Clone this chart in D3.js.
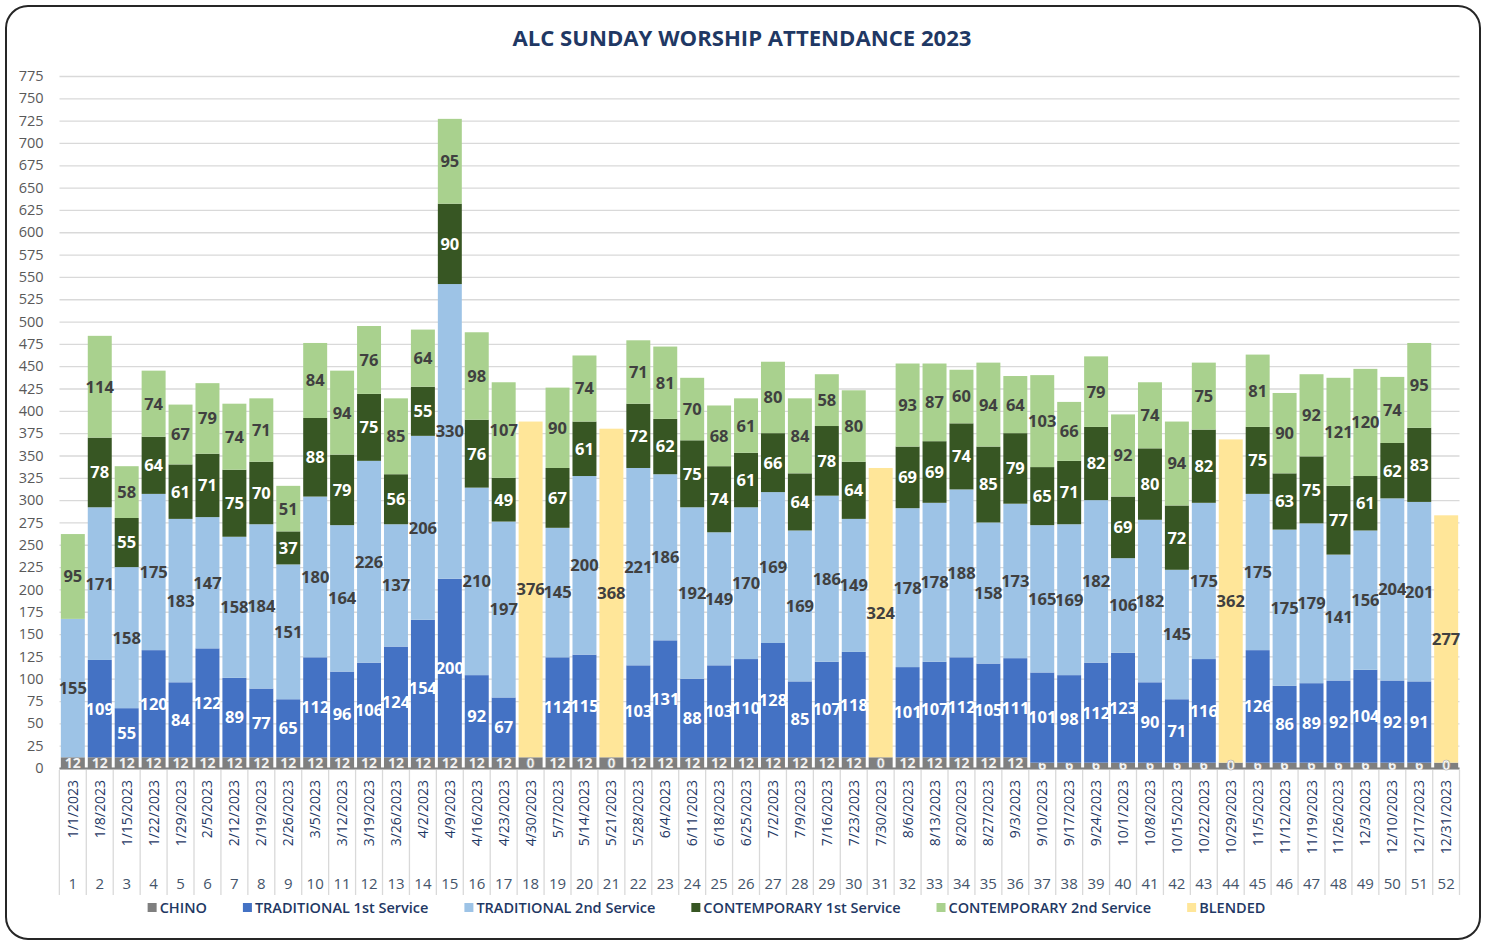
<!DOCTYPE html>
<html>
<head>
<meta charset="utf-8">
<script src="https://cdn.jsdelivr.net/npm/d3@7"></script>
<style>
  body { margin: 0; background: #fff; }
  svg text { font-family: "Open Sans", "Noto Sans", sans-serif; }
</style>
</head>
<body>
<div id="chart"></div>
<script>
// week numbers and the sunday dates under them
var weeks = [1,2,3,4,5,6,7,8,9,10,11,12,13,14,15,16,17,18,19,20,21,22,23,24,25,26,
  27,28,29,30,31,32,33,34,35,36,37,38,39,40,41,42,43,44,45,46,47,48,49,50,51,52];
var dates = ["1/1/2023","1/8/2023","1/15/2023","1/22/2023","1/29/2023","2/5/2023","2/12/2023",
  "2/19/2023","2/26/2023","3/5/2023","3/12/2023","3/19/2023","3/26/2023","4/2/2023","4/9/2023",
  "4/16/2023","4/23/2023","4/30/2023","5/7/2023","5/14/2023","5/21/2023","5/28/2023","6/4/2023",
  "6/11/2023","6/18/2023","6/25/2023","7/2/2023","7/9/2023","7/16/2023","7/23/2023","7/30/2023",
  "8/6/2023","8/13/2023","8/20/2023","8/27/2023","9/3/2023","9/10/2023","9/17/2023","9/24/2023",
  "10/1/2023","10/8/2023","10/15/2023","10/22/2023","10/29/2023","11/5/2023","11/12/2023",
  "11/19/2023","11/26/2023","12/3/2023","12/10/2023","12/17/2023","12/31/2023"];

// chino band as drawn, and the label the chart prints on it (0 on the blended weeks)
var chino = [12,12,12,12,12,12,12,12,12,12,12,12,12,12,12,12,12,12,12,12,12,12,12,12,12,12,
  12,12,12,12,12,12,12,12,12,12,6,6,6,6,6,6,6,6,6,6,6,6,6,6,6,6];
var chinoLabel = [12,12,12,12,12,12,12,12,12,12,12,12,12,12,12,12,12,0,12,12,0,12,12,12,12,12,
  12,12,12,12,0,12,12,12,12,12,6,6,6,6,6,6,6,0,6,6,6,6,6,6,6,0];
var trad1 = [null,109,55,120,84,122,89,77,65,112,96,106,124,154,200,92,67,null,112,115,null,103,131,88,103,110,
  128,85,107,118,null,101,107,112,105,111,101,98,112,123,90,71,116,null,126,86,89,92,104,92,91,null];
var trad2 = [155,171,158,175,183,147,158,184,151,180,164,226,137,206,330,210,197,null,145,200,null,221,186,192,149,170,
  169,169,186,149,null,178,178,188,158,173,165,169,182,106,182,145,175,null,175,175,179,141,156,204,201,null];
var cont1 = [null,78,55,64,61,71,75,70,37,88,79,75,56,55,90,76,49,null,67,61,null,72,62,75,74,61,
  66,64,78,64,null,69,69,74,85,79,65,71,82,69,80,72,82,null,75,63,75,77,61,62,83,null];
var cont2 = [95,114,58,74,67,79,74,71,51,84,94,76,85,64,95,98,107,null,90,74,null,71,81,70,68,61,
  80,84,58,80,null,93,87,60,94,64,103,66,79,92,74,94,75,null,81,90,92,121,120,74,95,null];
var blended = [null,null,null,null,null,null,null,null,null,null,null,null,null,null,null,null,null,376,null,null,368,null,null,null,null,null,
  null,null,null,null,324,null,null,null,null,null,null,null,null,null,null,null,null,362,null,null,null,null,null,null,null,277];

var seriesNames = ["CHINO","TRADITIONAL 1st Service","TRADITIONAL 2nd Service",
  "CONTEMPORARY 1st Service","CONTEMPORARY 2nd Service","BLENDED"];
var seriesValues = [chino, trad1, trad2, cont1, cont2, blended];
var colors = ["#7f7f7f","#4472c4","#9dc3e6","#375623","#a9d18e","#ffe699"];
var labelColors = ["#f2f2f2","#ffffff","#404040","#ffffff","#404040","#404040"];

var yTicks = d3.range(0, 776, 25);

var width = 1485, height = 945;
var margin = {left: 59.5, right: 25.5, top: 76, bottom: 177};
var plotW = width - margin.left - margin.right;
var plotH = height - margin.top - margin.bottom;

var svg = d3.select("#chart").append("svg")
  .attr("width", width)
  .attr("height", height);

svg.append("rect")
  .attr("x", 6).attr("y", 6)
  .attr("width", 1474).attr("height", 933)
  .attr("rx", 22)
  .attr("fill", "#fff")
  .attr("stroke", "#262626")
  .attr("stroke-width", 2);

svg.append("text")
  .attr("x", 742).attr("y", 46)
  .attr("text-anchor", "middle")
  .attr("fill", "#1f3864")
  .attr("textLength", 459)
  .attr("lengthAdjust", "spacingAndGlyphs")
  .style("font-size", "21px")
  .style("font-weight", 700)
  .text("ALC SUNDAY WORSHIP ATTENDANCE 2023");

var g = svg.append("g").attr("transform", "translate(" + margin.left + "," + margin.top + ")");

var x = d3.scaleBand()
  .domain(weeks)
  .range([0, plotW])
  .paddingInner(0.11)
  .paddingOuter(0.05);

var y = d3.scaleLinear()
  .domain([0, 775])
  .range([plotH, 0]);

// gridlines + y labels
var yAxis = d3.axisLeft(y)
  .tickValues(yTicks)
  .tickSize(-plotW)
  .tickPadding(16);
g.append("g")
  .call(yAxis)
  .call(function (a) {
    a.select(".domain").remove();
    a.selectAll(".tick line").attr("stroke", "#d9d9d9").attr("stroke-width", 1.3);
    a.selectAll(".tick text")
      .attr("fill", "#595959")
      .style("font-size", "14.5px")
      .style("font-family", "'Open Sans', sans-serif");
  });

// stack
var rows = weeks.map(function (w, i) {
  var r = {week: w};
  seriesNames.forEach(function (s, k) { r[s] = seriesValues[k][i] || 0; });
  return r;
});
var stack = d3.stack().keys(seriesNames);
var layers = stack(rows);

function drawLayer(k) {
  g.append("g")
    .selectAll("rect")
    .data(layers[k])
    .enter().append("rect")
    .attr("x", function (d) { return x(d.data.week); })
    .attr("width", x.bandwidth())
    .attr("y", function (d) { return y(d[1]); })
    .attr("height", function (d) { return y(d[0]) - y(d[1]); })
    .attr("fill", colors[k]);
}

function drawLabels(k, labels, filter) {
  return g.append("g")
    .selectAll("text")
    .data(layers[k].filter(function (d, i) {
      var v = labels[i];
      return v !== null && filter(v);
    }))
    .enter().append("text")
    .attr("x", function (d) { return x(d.data.week) + x.bandwidth() / 2; })
    .attr("y", function (d) { return (y(d[0]) + y(d[1])) / 2; })
    .attr("dy", "0.36em")
    .attr("text-anchor", "middle")
    .attr("fill", labelColors[k])
    .style("font-size", k === 0 ? "14px" : "16.5px")
    .style("font-weight", 700)
    .text(function (d) { return labels[weeks.indexOf(d.data.week)]; });
}

// axis line
g.append("line")
  .attr("x1", 0).attr("x2", plotW)
  .attr("y1", plotH + 0.5).attr("y2", plotH + 0.5)
  .attr("stroke", "#808080").attr("stroke-width", 2);

// chino band and its labels go first so the bars above cover the top of the digits
drawLayer(0);
drawLabels(0, chinoLabel, function (v) { return v > 0; });
for (var k = 1; k < layers.length; k++) drawLayer(k);
for (var k2 = 1; k2 < layers.length; k2++) drawLabels(k2, seriesValues[k2], function () { return true; });
// the zero labels are printed on top
drawLabels(0, chinoLabel, function (v) { return v === 0; })
  .attr("fill", "#ffffff")
  .attr("stroke", "#a6a6a6")
  .attr("stroke-width", 0.6);

// category separators under the axis
var step = x.step();
var bounds = weeks.map(function (w) { return x(w) - x.paddingInner() * step / 2; });
bounds.push(plotW);
g.append("g")
  .selectAll("line")
  .data(bounds)
  .enter().append("line")
  .attr("x1", function (d) { return d; })
  .attr("x2", function (d) { return d; })
  .attr("y1", plotH + 2)
  .attr("y2", plotH + 127)
  .attr("stroke", "#d9d9d9")
  .attr("stroke-width", 1.3);

// date labels, rotated
g.append("g")
  .selectAll("text")
  .data(weeks)
  .enter().append("text")
  .attr("transform", function (w) {
    return "translate(" + (x(w) + x.bandwidth() / 2 + 5) + "," + (plotH + 12) + ") rotate(-90)";
  })
  .attr("text-anchor", "end")
  .attr("fill", "#1f3864")
  .style("font-size", "14px")
  .text(function (w, i) { return dates[i]; });

// week numbers
g.append("g")
  .selectAll("text")
  .data(weeks)
  .enter().append("text")
  .attr("x", function (w) { return x(w) + x.bandwidth() / 2; })
  .attr("y", plotH + 121)
  .attr("text-anchor", "middle")
  .attr("fill", "#44546a")
  .style("font-size", "15px")
  .text(function (w) { return w; });

// legend
var legend = svg.append("g").attr("transform", "translate(0,908)");
var items = legend.selectAll("g")
  .data(seriesNames)
  .enter().append("g");
items.append("rect")
  .attr("width", 9).attr("height", 9)
  .attr("y", -5)
  .attr("fill", function (d, i) { return colors[i]; });
items.append("text")
  .attr("x", 12)
  .attr("dy", "0.35em")
  .attr("fill", "#1f3864")
  .style("font-size", "14.5px")
  .style("font-weight", 600)
  .text(function (d) { return d; });
var widths = [];
items.each(function () { widths.push(this.getBBox().width); });
var gap = 36;
var total = d3.sum(widths) + gap * (widths.length - 1);
var cx = 147 + (1266 - 147 - total) / 2;
items.attr("transform", function (d, i) {
  var pos = cx;
  cx += widths[i] + gap;
  return "translate(" + pos + ",0)";
});
</script>
</body>
</html>
